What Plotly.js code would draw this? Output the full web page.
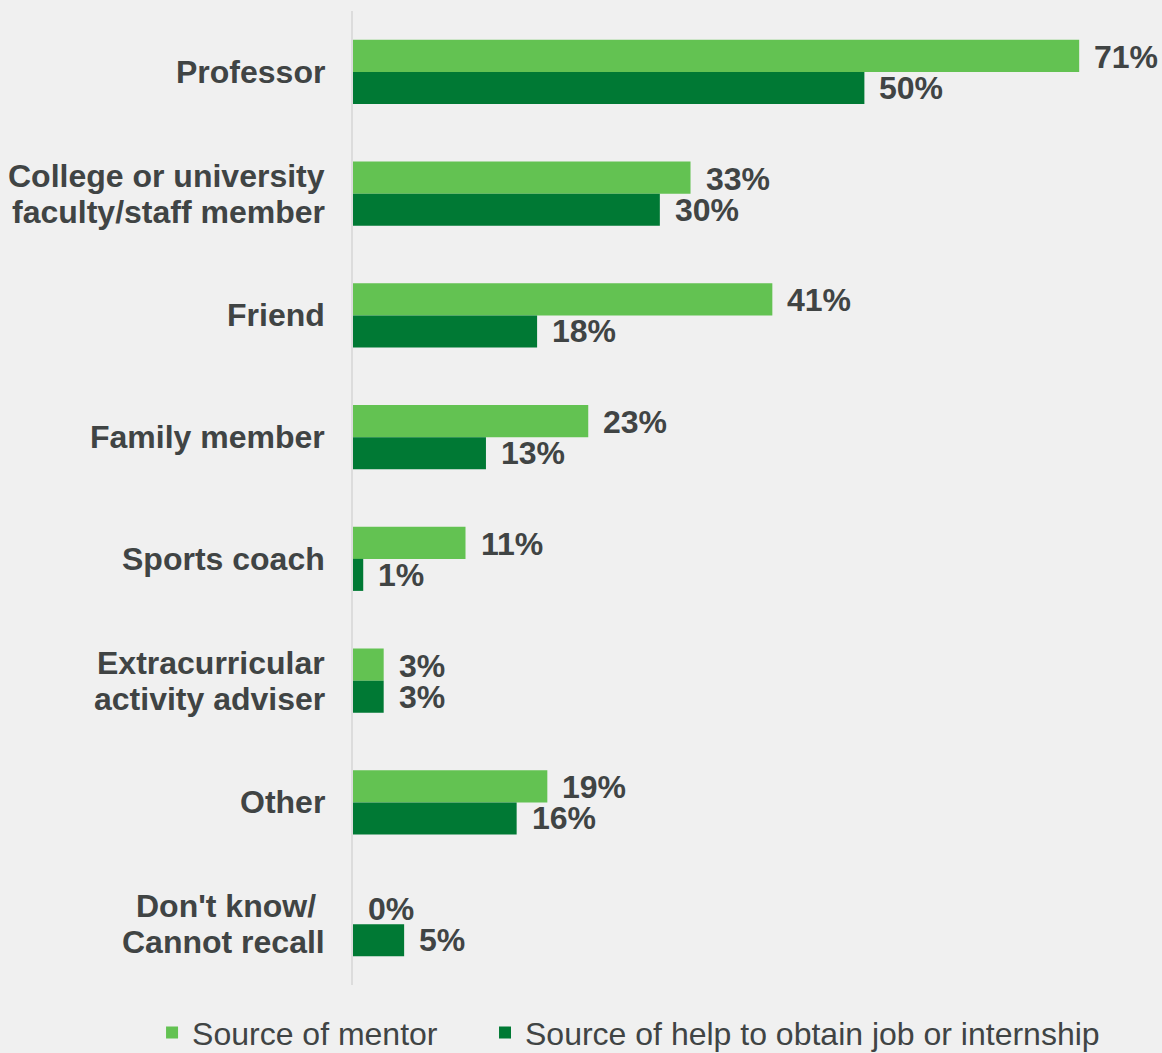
<!DOCTYPE html>
<html>
<head>
<meta charset="utf-8">
<script src="https://cdn.plot.ly/plotly-3.0.1.min.js"></script>
<style>
  html, body { margin: 0; padding: 0; background: #f0f0f0; }
  #chart { width: 1162px; height: 1053px; }
</style>
</head>
<body>
<div id="chart"></div>
<script>
const categories = [
  "Professor",
  "College or university<br>faculty/staff member",
  "Friend",
  "Family member",
  "Sports coach",
  "Extracurricular<br>activity adviser",
  "Other",
  "Don't know/ <br>Cannot recall"
];
const mentorValues = [71, 33, 41, 23, 11, 3, 19, 0];
const helpValues = [50, 30, 18, 13, 1, 3, 16, 5];
const seriesNames = ["Source of mentor", "Source of help to obtain job or internship"];

const lightGreen = "#63c252";
const darkGreen = "#007934";
const textColor = "#404444";
const fontFamily = "'Liberation Sans', Arial, sans-serif";

const traces = [
  {
    type: "bar", orientation: "h", name: seriesNames[0],
    x: mentorValues, y: categories,
    marker: { color: lightGreen },
    legend: "legend",
    hoverinfo: "skip"
  },
  {
    type: "bar", orientation: "h", name: seriesNames[1],
    x: helpValues, y: categories,
    marker: { color: darkGreen },
    legend: "legend2",
    hoverinfo: "skip"
  }
];

const annotations = [];
// value labels
[mentorValues, helpValues].forEach((vals, s) => {
  vals.forEach((v, i) => {
    annotations.push({
      x: v, y: categories[i], xref: "x", yref: "y",
      text: v + "%", showarrow: false,
      xanchor: "left", yanchor: "middle",
      xshift: 13, yshift: s === 0 ? 15 : -16,
      font: { family: fontFamily, size: 32, color: textColor, weight: "bold" }
    });
  });
});
// category labels (one annotation per line for tighter line spacing)
const lineSpacing = 36;
categories.forEach((cat) => {
  const lines = cat.split("<br>");
  lines.forEach((ln, j) => {
    annotations.push({
      x: 0, y: cat, xref: "x", yref: "y",
      text: ln, showarrow: false,
      xanchor: "right", yanchor: "middle",
      xshift: -26,
      yshift: ((lines.length - 1) / 2 - j) * lineSpacing,
      font: { family: fontFamily, size: 32, color: textColor, weight: "bold" }
    });
  });
});

const legendCommon = {
  orientation: "h", xanchor: "left", y: -0.049, yanchor: "middle",
  font: { family: fontFamily, size: 32, color: textColor },
  itemclick: false, itemdoubleclick: false,
  bgcolor: "rgba(0,0,0,0)"
};

const layout = {
  width: 1162, height: 1053,
  paper_bgcolor: "#f0f0f0", plot_bgcolor: "#f0f0f0",
  margin: { l: 353, r: 1, t: 11, b: 68, autoexpand: false },
  barmode: "group",
  bargap: 0.474, bargroupgap: 0,
  showlegend: true,
  legend: Object.assign({}, legendCommon, { x: -0.2487 }),
  legend2: Object.assign({}, legendCommon, { x: 0.1634 }),
  xaxis: {
    range: [0, 79], showgrid: false, zeroline: false,
    showticklabels: false, showline: false, fixedrange: true
  },
  yaxis: {
    autorange: "reversed", showgrid: false, zeroline: false,
    showline: true, linecolor: "#dcdcdc", linewidth: 2, layer: "below traces",
    ticks: "", showticklabels: false,
    fixedrange: true
  },
  annotations: annotations
};

Plotly.newPlot("chart", traces, layout, { displayModeBar: false, staticPlot: true });
</script>
</body>
</html>
